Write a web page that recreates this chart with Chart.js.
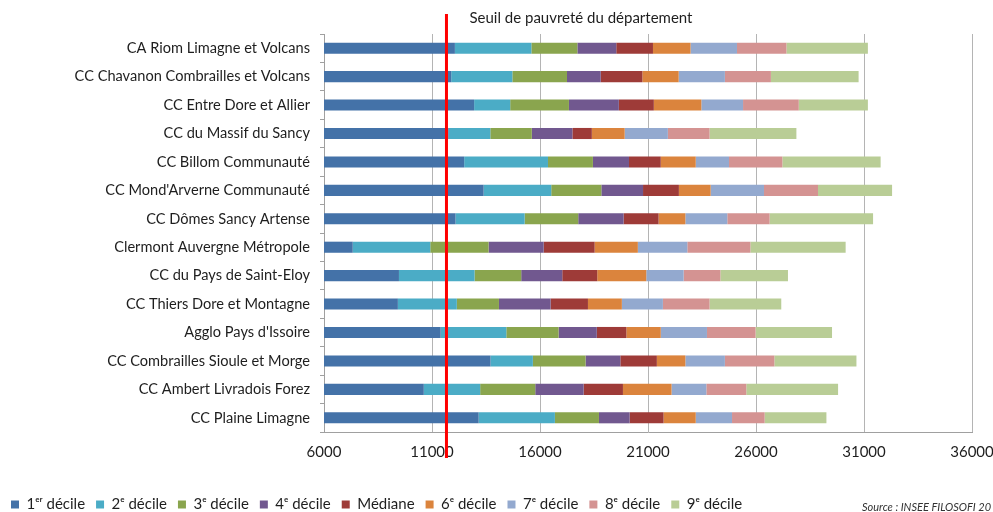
<!DOCTYPE html>
<html>
<head>
<meta charset="utf-8">
<script src="https://cdn.jsdelivr.net/npm/chart.js@4.4.1/dist/chart.umd.min.js"></script>
<style>
html,body{margin:0;padding:0;background:#fff;}
#wrap{width:993px;height:512px;position:relative;}
</style>
</head>
<body>
<div id="wrap"><canvas id="c" width="993" height="512"></canvas></div>
<script>
const categories = [
  "CA Riom Limagne et Volcans",
  "CC Chavanon Combrailles et Volcans",
  "CC Entre Dore et Allier",
  "CC du Massif du Sancy",
  "CC Billom Communauté",
  "CC Mond'Arverne Communauté",
  "CC Dômes Sancy Artense",
  "Clermont Auvergne Métropole",
  "CC du Pays de Saint-Eloy",
  "CC Thiers Dore et Montagne",
  "Agglo Pays d'Issoire",
  "CC Combrailles Sioule et Morge",
  "CC Ambert Livradois Forez",
  "CC Plaine Limagne"
];
const seriesNames = ["1ᵉʳ décile","2ᵉ décile","3ᵉ décile","4ᵉ décile","Médiane","6ᵉ décile","7ᵉ décile","8ᵉ décile","9ᵉ décile"];
const d1  = [12060,11890,12950,11770,12490,13390,12090, 7330, 9470, 9420,11400,13710,10620,13160];
const d2  = [15600,14720,14620,13700,16370,16520,15290,10920,12970,12150,14440,15670,13230,16690];
const d3  = [17730,17250,17340,15620,18450,18840,17770,13620,15130,14100,16860,18110,15780,18730];
const d4  = [19530,18810,19650,17500,20120,20770,19870,16170,17030,16490,18630,19720,18020,20150];
const med = [21230,20740,21270,18400,21590,22430,21490,18530,18650,18220,20000,21410,19840,21720];
const d6  = [22970,22420,23470,19920,23210,23900,22730,20530,20920,19790,21590,22730,22090,23210];
const d7  = [25120,24560,25400,21920,24750,26370,24670,22820,22650,21690,23730,24560,23700,24890];
const d8  = [27410,26690,27980,23850,27220,28870,26630,25740,24350,23850,25980,26850,25550,26400];
const d9  = [31180,30750,31180,27870,31770,32300,31420,30150,27480,27170,29520,30650,29800,29260];
const xTicks = [6000,11000,16000,21000,26000,31000,36000];
const povertyThreshold = 11670;
const thresholdLabel = "Seuil de pauvreté du département";
const sourceText = "Source : INSEE FILOSOFI 20";

const colors = ["#4472A8","#4BACC6","#8AA54E","#71588F","#9E3B38","#DB843D","#93A9CF","#D49392","#B9CD96"];
const series = [d1,d2,d3,d4,med,d6,d7,d8,d9];
const axisMin = xTicks[0], axisMax = xTicks[xTicks.length-1];

const datasets = series.map((arr,k)=>({
  label: seriesNames[k],
  data: arr.map((v,i)=>[k===0 ? axisMin : series[k-1][i], v]),
  backgroundColor: colors[k],
  borderWidth: 0,
  grouped: false,
  categoryPercentage: 1,
  barPercentage: 0.39
}));

const FONT = "Lato, 'Liberation Sans', sans-serif";
Chart.defaults.font.family = FONT;
Chart.defaults.color = "#1e1e1e";

const overlay = {
  id: 'overlay',
  afterDatasetsDraw(chart){
    const ctx = chart.ctx;
    const x = chart.scales.x.getPixelForValue(povertyThreshold);
    ctx.save();
    ctx.strokeStyle = "#ff0000";
    ctx.lineWidth = 3;
    ctx.beginPath();
    ctx.moveTo(x, 14);
    ctx.lineTo(x, 458);
    ctx.stroke();
    ctx.fillStyle = "#1e1e1e";
    ctx.font = "15px " + FONT;
    ctx.textBaseline = "middle";
    ctx.textAlign = "left";
    ctx.fillText(thresholdLabel, x + 23, 18);
    ctx.font = "italic 11px " + FONT;
    ctx.fillStyle = "#333";
    ctx.textBaseline = "alphabetic";
    ctx.fillText(sourceText, 862, 511);
    ctx.restore();
  }
};

new Chart(document.getElementById('c'), {
  type: 'bar',
  data: { labels: categories, datasets },
  options: {
    indexAxis: 'y',
    responsive: false,
    animation: false,
    layout: { padding: { top: 34, right: 21, left: 0, bottom: -10 } },
    plugins: {
      legend: {
        position: 'bottom',
        align: 'start',
        labels: { boxWidth: 8, boxHeight: 8, padding: 11, font: { size: 15 }, color: "#1e1e1e" }
      },
      tooltip: { enabled: false }
    },
    scales: {
      x: {
        min: axisMin, max: axisMax,
        afterBuildTicks(axis){ axis.ticks = xTicks.map(v=>({value:v})); },
        afterFit(axis){ axis.height = 54; axis.paddingRight = 0; axis.paddingLeft = 0; },
        ticks: { font: { size: 15 }, padding: 11, color: "#1e1e1e", maxRotation: 0, callback: v => String(v) },
        grid: { color: "#b4b4b4", drawTicks: false, lineWidth: 1 },
        border: { color: "#a0a0a0" }
      },
      y: {
        afterFit(axis){ axis.width = 324; },
        ticks: { font: { size: 14.6 }, padding: 10, color: "#1e1e1e", autoSkip: false },
        grid: { drawOnChartArea: false, drawTicks: true, tickLength: 4, color: "#a0a0a0", offset: true },
        border: { color: "#a0a0a0" }
      }
    }
  },
  plugins: [overlay]
});
</script>
</body>
</html>
